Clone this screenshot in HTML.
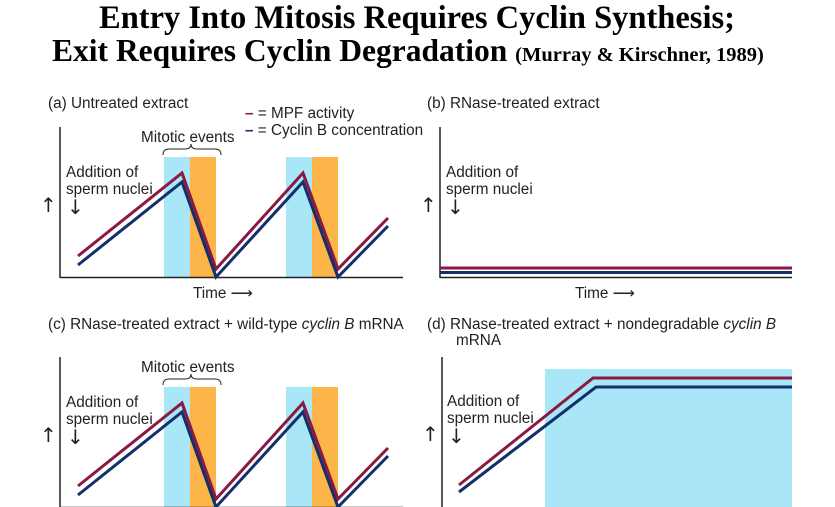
<!DOCTYPE html>
<html><head><meta charset="utf-8"><style>
body{margin:0;background:#fff;width:835px;height:507px;overflow:hidden}
svg{display:block}
.t{font-family:"Liberation Serif",serif;font-weight:bold;fill:#000}
.l{font-family:"Liberation Sans",sans-serif;font-size:15.3px;fill:#222}
.a{font-family:"DejaVu Sans",sans-serif;font-size:20px;fill:#222}
</style></head><body>
<svg width="835" height="507" viewBox="0 0 835 507">
<text class="t" x="417" y="28" font-size="32.5" text-anchor="middle">Entry Into Mitosis Requires Cyclin Synthesis;</text>
<text class="t" x="52" y="61" font-size="31.5">Exit Requires Cyclin Degradation <tspan font-size="20.5">(Murray &amp; Kirschner, 1989)</tspan></text>

<defs>
<g id="osc">
<rect x="164" y="157" width="26" height="121" fill="#a8e6f8"/>
<rect x="190" y="157" width="26" height="121" fill="#fbb548"/>
<rect x="286" y="157" width="26" height="121" fill="#a8e6f8"/>
<rect x="312" y="157" width="26" height="121" fill="#fbb548"/>
<line x1="60" y1="127" x2="60" y2="278" stroke="#222" stroke-width="1.5"/>
<line x1="60" y1="277.5" x2="403" y2="277.5" stroke="#222" stroke-width="1.5"/>
<polyline points="78,256 182,173 216,269 303,173 338,269 388,218" fill="none" stroke="#8b1a42" stroke-width="3"/>
<polyline points="78,265 182,182 216,277 303,182 338,277 388,226" fill="none" stroke="#14306a" stroke-width="3"/>
<text class="l" x="141" y="142">Mitotic events</text>
<path d="M163,155 q0,-6 6,-6 h16 q6,0 6,-5 q0,5 6,5 h18 q6,0 6,6" fill="none" stroke="#222" stroke-width="1"/>
<text class="l" x="66" y="177">Addition of</text>
<text class="l" x="66" y="194">sperm nuclei</text>
<text class="a" x="67" y="214">↓</text>
<text class="a" x="40" y="212">↑</text>
</g>
</defs>

<text class="l" x="48" y="108">(a)  Untreated extract</text>
<use href="#osc"/>
<text class="l" x="193" y="298">Time ⟶</text>
<text class="l" x="245" y="118"><tspan fill="#8b1a42" font-weight="bold">–</tspan> = MPF activity</text>
<text class="l" x="245" y="135"><tspan fill="#14306a" font-weight="bold">–</tspan> = Cyclin B concentration</text>

<text class="l" x="427" y="108">(b)  RNase-treated extract</text>
<line x1="440" y1="127" x2="440" y2="278" stroke="#222" stroke-width="1.5"/>
<line x1="440" y1="277.5" x2="792" y2="277.5" stroke="#222" stroke-width="1.5"/>
<line x1="440" y1="268" x2="792" y2="268" stroke="#8b1a42" stroke-width="3"/>
<line x1="440" y1="272.5" x2="792" y2="272.5" stroke="#14306a" stroke-width="3"/>
<text class="l" x="446" y="177">Addition of</text>
<text class="l" x="446" y="194">sperm nuclei</text>
<text class="a" x="447" y="214">↓</text>
<text class="a" x="420" y="212">↑</text>
<text class="l" x="575" y="298">Time ⟶</text>

<text class="l" x="48" y="329">(c)  RNase-treated extract + wild-type <tspan font-style="italic">cyclin B</tspan> mRNA</text>
<use href="#osc" transform="translate(0,230)"/>

<text class="l" x="427" y="329">(d)  RNase-treated extract + nondegradable <tspan font-style="italic">cyclin B</tspan></text>
<text class="l" x="456" y="345">mRNA</text>
<rect x="545" y="369" width="247" height="140" fill="#a8e6f8"/>
<line x1="442" y1="357" x2="442" y2="508" stroke="#222" stroke-width="1.5"/>
<polyline points="459,485 593,378 792,378" fill="none" stroke="#8b1a42" stroke-width="3"/>
<polyline points="459,492 596,387 792,387" fill="none" stroke="#14306a" stroke-width="3"/>
<text class="l" x="447" y="406">Addition of</text>
<text class="l" x="447" y="423">sperm nuclei</text>
<text class="a" x="448" y="443">↓</text>
<text class="a" x="422" y="441">↑</text>
</svg>
</body></html>
